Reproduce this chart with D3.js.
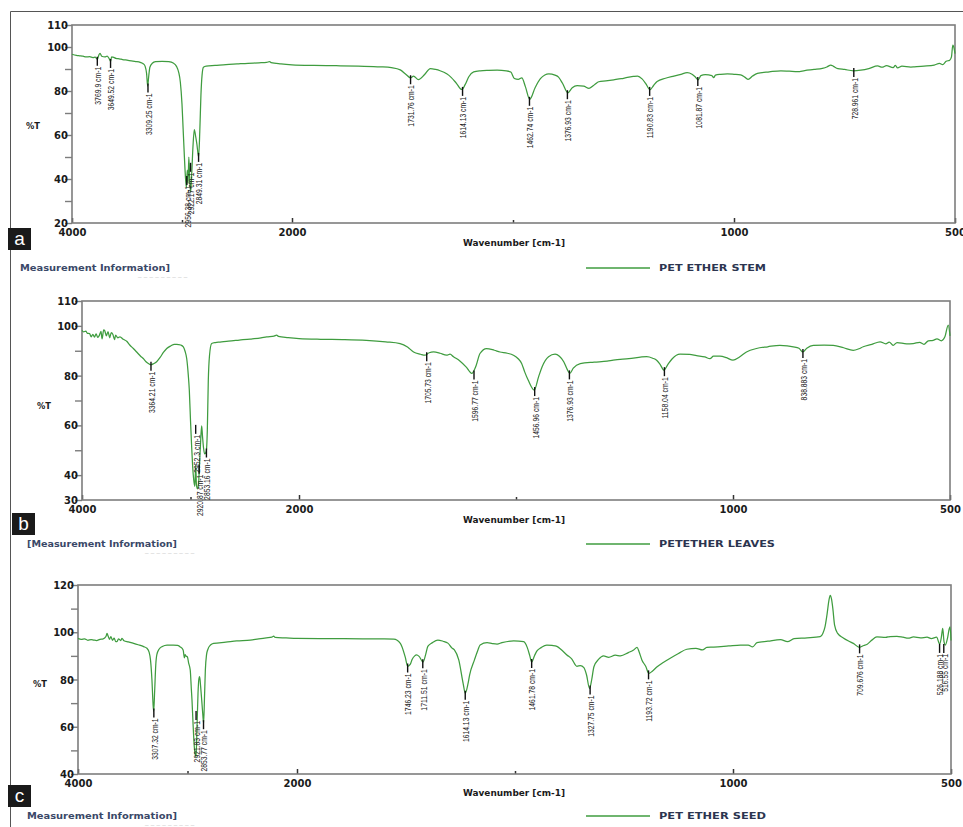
<!DOCTYPE html>
<html>
<head>
<meta charset="utf-8">
<script src="https://cdn.jsdelivr.net/npm/d3@7/dist/d3.min.js"></script>
<style>
  html, body { margin: 0; padding: 0; background: #fff; }
  svg { display: block; }
</style>
</head>
<body>
<svg id="chart" width="963" height="827"></svg>
<script>
// ---------------- DATA ----------------
const xTickValues = [4000, 2000, 1000, 500];
const xMinorTicks = [3000, 1500];

const stemYTicks = [20, 40, 60, 80, 100, 110];
const stemYMinor = [30, 50, 70, 90];
const leavesYTicks = [30, 40, 60, 80, 100, 110];
const leavesYMinor = [50, 70, 90];
const seedYTicks = [40, 60, 80, 100, 120];
const seedYMinor = [50, 70, 90, 110];

const seriesNames = ["PET ETHER STEM", "PETETHER LEAVES", "PET ETHER SEED"];
const infoTexts = ["Measurement Information]", "[Measurement Information]", "Measurement Information]"];
const panelLetters = ["a", "b", "c"];

// [wavenumber cm-1, %T]
const stemSpectrum = [
 [4000,96.7],[3960,96.2],[3930,96.0],[3900,95.8],[3870,95.5],[3840,95.6],[3810,95.2],[3790,95.4],[3769,94.4],[3755,96.5],
 [3745,97.1],[3730,95.8],[3700,95.5],[3680,95.9],[3660,94.5],[3649,93.4],[3640,95.5],[3620,95.3],[3600,94.8],[3570,94.6],
 [3540,94.3],[3500,94.0],[3460,93.7],[3420,93.4],[3380,93.0],[3350,92.3],[3335,91.2],[3322,88],[3312,82.2],[3303,86.5],
 [3292,90.8],[3270,92.6],[3240,93.3],[3180,93.5],[3120,93.3],[3080,92.7],[3050,91.2],[3030,88.5],[3015,84],[3000,74],
 [2990,63],[2980,52],[2970,42],[2960,36],[2952,44],[2945,38],[2938,50],[2930,40],[2922,34],[2912,42],
 [2900,55],[2888,62.5],[2878,60],[2865,56],[2849,50],[2838,62],[2828,78],[2818,87],[2805,90.8],[2780,91.3],
 [2700,91.6],[2600,92.0],[2500,92.3],[2400,92.6],[2300,92.8],[2230,93.0],[2205,93.4],[2190,92.9],[2100,92.3],[2000,91.9],
 [1950,91.6],[1900,91.5],[1850,91.3],[1800,91.0],[1775,90.6],[1755,89.6],[1742,87.5],[1732,86.0],[1725,86.8],[1714,85.2],
 [1700,87.5],[1687,90.2],[1675,89.8],[1665,89.2],[1650,87.8],[1640,86.2],[1628,83.5],[1616,80.7],[1608,83],[1600,86.5],
 [1589,88.7],[1574,89.2],[1555,89.4],[1536,89.5],[1515,89.2],[1505,88.6],[1497,85.7],[1488,85.3],[1480,86.0],[1472,82],
 [1462,76.2],[1450,81.5],[1438,85.6],[1428,87.3],[1419,87.8],[1405,87.2],[1397,86.3],[1388,83.5],[1376,79.2],[1366,81.5],
 [1355,82.5],[1340,82.2],[1328,81.2],[1315,83],[1306,84.2],[1290,84.6],[1272,85.1],[1255,85.6],[1241,86.2],[1228,86.6],
 [1218,86.8],[1208,85.5],[1200,83.5],[1190,80.6],[1182,82.5],[1174,84.3],[1155,85.8],[1136,86.8],[1120,87.6],[1106,88.3],
 [1095,87.6],[1088,86.5],[1081,85.1],[1075,87],[1065,87.4],[1050,87.0],[1046,86.1],[1042,87.2],[1030,87.6],[1015,87.8],
 [1000,87.6],[985,87.3],[975,86.2],[968,85.3],[958,86.8],[947,88.0],[920,88.7],[894,89.2],[875,89.0],[856,88.8],
 [840,89.3],[819,89.8],[800,90.3],[790,90.9],[781,91.8],[775,91.2],[765,90.2],[750,89.8],[730,89.2],[713,89.5],
 [695,90.2],[675,91.4],[665,90.8],[655,91.5],[640,90.6],[635,91.6],[630,90.5],[620,91.3],[600,90.9],[592,91.0],
 [570,91.3],[547,91.8],[535,92.6],[528,92.0],[520,93.5],[512,94.0],[508,95.5],[505,100.9],[502,99.4],[500,97]
];
// [wavenumber, %T where the marker starts, label]
const stemPeaks = [
 [3769.9,94.2,"3769.9 cm-1"],[3649.52,93.2,"3649.52 cm-1"],[3309.25,82,"3309.25 cm-1"],
 [2956.38,40,"2956.38 cm-1"],[2922.17,46,"2922.17 cm-1"],[2849.31,50.5,"2849.31 cm-1"],
 [1731.76,85.8,"1731.76 cm-1"],[1614.13,80.5,"1614.13 cm-1"],[1462.74,76,"1462.74 cm-1"],
 [1376.93,79,"1376.93 cm-1"],[1190.83,80.5,"1190.83 cm-1"],[1081.87,85,"1081.87 cm-1"],[728.961,89.1,"728.961 cm-1"]
];

const leavesSpectrum = [
 [4000,98.2],[3985,97.6],[3965,97.9],[3950,97.0],[3930,96.9],[3915,95.6],[3900,96.6],[3885,95.5],[3870,96.8],[3855,95.4],
 [3840,96.2],[3825,97.8],[3815,94.8],[3800,98.4],[3790,98.0],[3775,96.0],[3760,97.7],[3745,95.2],[3730,97.3],[3715,96.5],
 [3700,94.5],[3690,96.3],[3670,95.2],[3650,95.6],[3620,94.6],[3588,93.8],[3560,92.3],[3527,90.9],[3490,89.2],[3460,87.8],
 [3435,86.9],[3410,85.6],[3385,84.8],[3364,84.4],[3340,84.8],[3312,85.6],[3280,87.3],[3250,89.3],[3219,90.9],[3180,92.0],
 [3150,92.6],[3127,92.6],[3090,92.3],[3066,91.6],[3050,89.8],[3035,86.9],[3020,80],[3011,74.2],[3000,62],[2990,52],
 [2980,43.4],[2970,38],[2960,35.5],[2952,44],[2945,36],[2935,34.5],[2925,37],[2915,46],[2905,55],[2897,59.8],
 [2890,56],[2880,51],[2870,48.5],[2855,49.5],[2845,58],[2836,78],[2825,88],[2805,92.9],[2770,93.3],[2728,93.5],
 [2650,93.9],[2550,94.3],[2450,94.7],[2350,95.2],[2298,95.6],[2230,95.9],[2206,96.3],[2190,95.8],[2100,95.3],[2000,94.9],
 [1950,94.6],[1900,94.5],[1845,94.2],[1800,93.6],[1767,92.9],[1750,91.5],[1736,89.5],[1720,88.6],[1710,88.2],[1700,89.2],
 [1690,89.5],[1675,89.0],[1660,88.2],[1652,88.6],[1644,87.6],[1630,86],[1614,83.3],[1602,80.9],[1592,84],[1583,88.9],
 [1568,90.9],[1550,90.2],[1537,89.5],[1520,89.0],[1506,88.2],[1495,86.8],[1487,84.9],[1480,81.5],[1472,78.2],[1458,74.2],
 [1448,79.5],[1440,83.5],[1425,87.6],[1410,88.6],[1400,87.8],[1390,85.6],[1382,82.5],[1376,80.9],[1368,83],[1352,84.8],
 [1320,85.4],[1290,85.8],[1276,86.2],[1240,86.8],[1199,87.6],[1185,87.0],[1176,86.2],[1168,84.5],[1159,82.2],[1150,84.5],
 [1140,86.8],[1122,88.6],[1100,88.5],[1084,88.0],[1065,87.5],[1053,86.8],[1045,87.8],[1030,87.8],[1015,87.2],[1000,86.2],
 [985,87.5],[969,89.5],[946,90.9],[920,91.6],[892,92.2],[875,92.0],[861,91.6],[848,91.0],[839,89.5],[830,91.0],
 [815,92.2],[790,92.3],[769,92.2],[745,91.2],[723,90.2],[710,90.8],[700,91.6],[680,92.6],[661,93.6],[648,92.8],
 [640,93.5],[631,92.2],[622,93.3],[600,92.8],[585,92.9],[570,93.4],[560,92.6],[550,94.0],[539,94.2],[530,94.8],
 [520,94.0],[512,95.5],[504,100.3],[500,96]
];
const leavesPeaks = [
 [3364.21,84.4,"3364.21 cm-1"],[2952.3,59,"2952.3 cm-1"],[2920.87,43,"2920.87 cm-1"],[2853.16,49.5,"2853.16 cm-1"],
 [1705.73,88.2,"1705.73 cm-1"],[1596.77,80.9,"1596.77 cm-1"],[1456.96,74.2,"1456.96 cm-1"],
 [1376.93,80.9,"1376.93 cm-1"],[1158.04,82.2,"1158.04 cm-1"],[838.883,89.5,"838.883 cm-1"]
];

const seedSpectrum = [
 [4000,97.4],[3970,97.0],[3940,97.2],[3910,96.6],[3880,96.9],[3857,96.7],[3830,96.5],[3800,97.0],[3770,97.2],[3745,98.2],
 [3735,99.5],[3725,98.4],[3712,97.0],[3700,98.2],[3685,96.6],[3670,97.5],[3655,96.0],[3644,96.0],[3630,97.2],[3610,96.5],
 [3598,97.4],[3580,96.4],[3540,95.9],[3492,95.3],[3450,94.7],[3400,93.9],[3370,93.2],[3350,91.5],[3338,88.3],[3325,80],
 [3315,70],[3309,66.5],[3300,75],[3290,86],[3280,90.5],[3260,92.8],[3230,94.0],[3187,94.6],[3130,94.6],[3090,94.4],
 [3066,93.8],[3040,92.5],[3028,89.2],[3022,90.5],[3015,90.0],[3000,89.5],[2990,87],[2975,84],[2965,76],[2959,71.3],
 [2950,62],[2938,51.6],[2930,48.5],[2922,47.2],[2913,60],[2904,74.2],[2895,80.5],[2889,81.2],[2880,77],[2868,69.9],
 [2860,65],[2853,61.5],[2845,72],[2837,84],[2826,90.5],[2816,92.5],[2790,94.6],[2762,95.3],[2650,95.8],[2550,96.3],
 [2426,96.7],[2350,97.2],[2280,97.6],[2230,97.9],[2213,98.4],[2200,97.8],[2100,97.6],[2000,97.4],[1916,97.3],[1850,97.2],
 [1800,97.2],[1778,97.1],[1763,95.3],[1752,89.7],[1746,85.6],[1740,86.5],[1736,88.5],[1730,90.0],[1726,90.4],[1720,89.8],
 [1711,87.4],[1705,90.5],[1700,94.0],[1690,95.5],[1677,96.7],[1665,96.2],[1654,95.4],[1645,93.4],[1639,92.5],[1629,88.3],
 [1619,78.4],[1614,74.2],[1608,78],[1604,82],[1593,88.3],[1585,92.5],[1580,94.6],[1564,95.6],[1552,95.2],[1541,95.0],
 [1530,95.6],[1503,96.4],[1480,96.0],[1472,93.6],[1466,90],[1462,87.4],[1455,90.2],[1450,92],[1440,93.5],[1427,94.6],
 [1415,94.4],[1404,94.0],[1395,92.8],[1381,90.4],[1370,88.7],[1358,85.6],[1350,85.9],[1342,85.0],[1336,82],[1329,76.2],
 [1324,80],[1319,85.4],[1308,88.6],[1297,90.0],[1285,89.4],[1270,90.3],[1258,90.0],[1240,91.4],[1228,92.5],[1220,93.6],
 [1215,91.5],[1209,88.3],[1200,85.5],[1193,82.6],[1185,83.5],[1174,85.4],[1160,87.2],[1144,89.0],[1125,91.0],[1106,92.8],
 [1085,93.2],[1070,92.5],[1060,93.6],[1044,93.7],[1010,94.2],[983,94.6],[965,94.6],[955,93.8],[945,95.6],[920,96.2],
 [891,96.9],[875,96.0],[860,97.3],[830,97.6],[800,98.1],[794,99.5],[789,102.3],[784,108],[780,113.5],[777,115.6],
 [774,114],[771,110],[767,103],[760,99.5],[747,97.6],[735,96.3],[724,95.3],[710,93.6],[700,94.4],[693,94.8],
 [682,96.6],[670,98.0],[650,97.8],[640,98.2],[624,98.3],[610,97.9],[598,97.5],[586,98.0],[570,97.6],[555,97.9],
 [545,97.3],[533,97.9],[526,95.0],[522,98],[519,101.6],[516,96],[513,94.6],[508,97.5],[504,101.5],[502,102.3],[500,96.5]
];
const seedPeaks = [
 [3307.32,66.5,"3307.32 cm-1"],[2921.83,65.4,"2921.83 cm-1"],[2853.77,61.5,"2853.77 cm-1"],
 [1746.23,85.5,"1746.23 cm-1"],[1711.51,87.3,"1711.51 cm-1"],[1614.13,74,"1614.13 cm-1"],
 [1461.78,87.4,"1461.78 cm-1"],[1327.75,76.2,"1327.75 cm-1"],[1193.72,82.6,"1193.72 cm-1"],
 [709.676,93.6,"709.676 cm-1"],[526.188,93.8,"526.188 cm-1"],[516.55,93.8,"516.55 cm-1"]
];

// ---------------- LAYOUT ----------------
const panels = [
  { spectrum: stemSpectrum, peaks: stemPeaks, yTicks: stemYTicks, yMinor: stemYMinor, yDomain: [20, 110],
    l: 72, m: 292, r: 955, t: 25, b: 223, pctX: 26, pctY: 129, wnY: 246, infoY: 271, box: [8, 228] },
  { spectrum: leavesSpectrum, peaks: leavesPeaks, yTicks: leavesYTicks, yMinor: leavesYMinor, yDomain: [30, 110],
    l: 82, m: 299, r: 950, t: 301, b: 500, pctX: 37, pctY: 409, wnY: 523, infoY: 547, box: [12, 513] },
  { spectrum: seedSpectrum, peaks: seedPeaks, yTicks: seedYTicks, yMinor: seedYMinor, yDomain: [40, 120],
    l: 78, m: 297, r: 951, t: 585, b: 774, pctX: 33, pctY: 687, wnY: 796, infoY: 819, box: [8, 785] }
];

const svg = d3.select("#chart");
svg.append("rect").attr("width", 963).attr("height", 827).attr("fill", "#fff");

// outer frame
svg.append("path").attr("d", "M10.5,827 V11.5 H963").attr("fill", "none")
   .attr("stroke", "#555").attr("stroke-width", 1);

const green = "#3f9c3f";
const frameColor = "#7d7d7d";
const infoColor = "#3a4868";
const fmt = d3.format("d");

panels.forEach((p, i) => {
  const x = d3.scaleLinear().domain([4000, 2000, 500]).range([p.l, p.m, p.r]);
  const y = d3.scaleLinear().domain(p.yDomain).range([p.b, p.t]);
  const g = svg.append("g");

  // y minor ticks
  const yMin = g.append("g").attr("transform", `translate(${p.l},0)`)
    .call(d3.axisLeft(y).tickValues(p.yMinor).tickSize(7).tickFormat(""));
  yMin.select(".domain").remove();
  yMin.selectAll("line").attr("stroke", frameColor).attr("stroke-width", 1.4);

  // y major ticks
  const yAx = g.append("g").attr("transform", `translate(${p.l},0)`)
    .call(d3.axisLeft(y).tickValues(p.yTicks).tickSize(7).tickPadding(-3).tickFormat(fmt));
  yAx.select(".domain").remove();
  yAx.selectAll("line").attr("stroke", frameColor).attr("stroke-width", 1.4);
  yAx.selectAll("text").attr("font-family", "DejaVu Sans, sans-serif").attr("font-size", 10)
     .attr("font-weight", "bold").attr("fill", "#1a1a1a").attr("dy", "0.36em");

  // x minor ticks (inward)
  const xMin = g.append("g").attr("transform", `translate(0,${p.b})`)
    .call(d3.axisBottom(x).tickValues(xMinorTicks).tickSize(-3).tickFormat(""));
  xMin.select(".domain").remove();
  xMin.selectAll("line").attr("stroke", "#333").attr("stroke-width", 1.5);

  // x major ticks
  const xAx = g.append("g").attr("transform", `translate(0,${p.b})`)
    .call(d3.axisBottom(x).tickValues(xTickValues).tickSize(-5).tickPadding(6).tickFormat(fmt));
  xAx.select(".domain").remove();
  xAx.selectAll("line").attr("stroke", "#333").attr("stroke-width", 1.5);
  xAx.selectAll("text").attr("font-family", "DejaVu Sans, sans-serif").attr("font-size", 10)
     .attr("font-weight", "bold").attr("fill", "#1a1a1a");

  // frame
  g.append("rect").attr("x", p.l).attr("y", p.t).attr("width", p.r - p.l).attr("height", p.b - p.t)
    .attr("fill", "none").attr("stroke", frameColor).attr("stroke-width", 1.6);

  // spectrum
  const line = d3.line().x(d => x(d[0])).y(d => y(d[1])).curve(d3.curveMonotoneX);
  g.append("path").datum(p.spectrum).attr("d", line).attr("fill", "none")
    .attr("stroke", green).attr("stroke-width", 1.25).attr("stroke-linejoin", "round");

  // peak markers + labels
  const pk = g.append("g").selectAll("g").data(p.peaks).join("g");
  pk.append("line")
    .attr("x1", d => x(d[0])).attr("x2", d => x(d[0]))
    .attr("y1", d => y(d[1]) - 3).attr("y2", d => y(d[1]) + 6)
    .attr("stroke", "#111").attr("stroke-width", 1.4);
  pk.append("text")
    .attr("transform", d => `translate(${x(d[0]) + 0.5},${y(d[1]) + 7}) rotate(-90)`)
    .attr("text-anchor", "end").attr("dy", "0.35em")
    .attr("font-family", "Liberation Sans Narrow, Liberation Sans, Arial Narrow, sans-serif")
    .attr("font-size", 9.5).attr("fill", "#222")
    .attr("textLength", d => d[2].length * 3.45).attr("lengthAdjust", "spacingAndGlyphs")
    .text(d => d[2]);

  // axis titles
  g.append("text").attr("x", p.pctX).attr("y", p.pctY).attr("font-family", "DejaVu Sans, sans-serif")
    .attr("font-size", 8.5).attr("font-weight", "bold").attr("fill", "#1a1a1a")
    .attr("textLength", 14).attr("lengthAdjust", "spacingAndGlyphs").text("%T");
  g.append("text").attr("x", 463).attr("y", p.wnY).attr("font-family", "DejaVu Sans, sans-serif")
    .attr("font-size", 8.5).attr("font-weight", "bold").attr("fill", "#1a1a1a")
    .attr("textLength", 102).attr("lengthAdjust", "spacingAndGlyphs").text("Wavenumber [cm-1]");

  // measurement info
  const infoX = i === 0 ? 20 : 27;
  g.append("text").attr("x", infoX).attr("y", p.infoY).attr("font-family", "DejaVu Sans, sans-serif")
    .attr("font-size", 8.5).attr("font-weight", "bold").attr("fill", infoColor)
    .attr("textLength", 150).attr("lengthAdjust", "spacingAndGlyphs").text(infoTexts[i]);
  g.append("text").attr("x", infoX + 118).attr("y", p.infoY + 5).attr("font-family", "DejaVu Sans, sans-serif")
    .attr("font-size", 7).attr("fill", "#d0d0d0").text("_ _ _ _   _ _ _ _    _");

  // legend
  g.append("line").attr("x1", 586).attr("x2", 650).attr("y1", p.infoY - 3).attr("y2", p.infoY - 3)
    .attr("stroke", green).attr("stroke-width", 1.3);
  g.append("text").attr("x", 659).attr("y", p.infoY).attr("font-family", "DejaVu Sans, sans-serif")
    .attr("font-size", 8.5).attr("font-weight", "bold").attr("fill", "#2c3550")
    .attr("textLength", i === 1 ? 116 : 107).attr("lengthAdjust", "spacingAndGlyphs").text(seriesNames[i]);

  // panel letter
  g.append("rect").attr("x", p.box[0]).attr("y", p.box[1]).attr("width", 23).attr("height", 22).attr("fill", "#1a1a1a");
  g.append("text").attr("x", p.box[0] + 11.5).attr("y", p.box[1] + 17).attr("text-anchor", "middle")
    .attr("font-family", "Liberation Sans, Arial, sans-serif").attr("font-size", 19).attr("fill", "#fff")
    .text(panelLetters[i]);
});
</script>
</body>
</html>
